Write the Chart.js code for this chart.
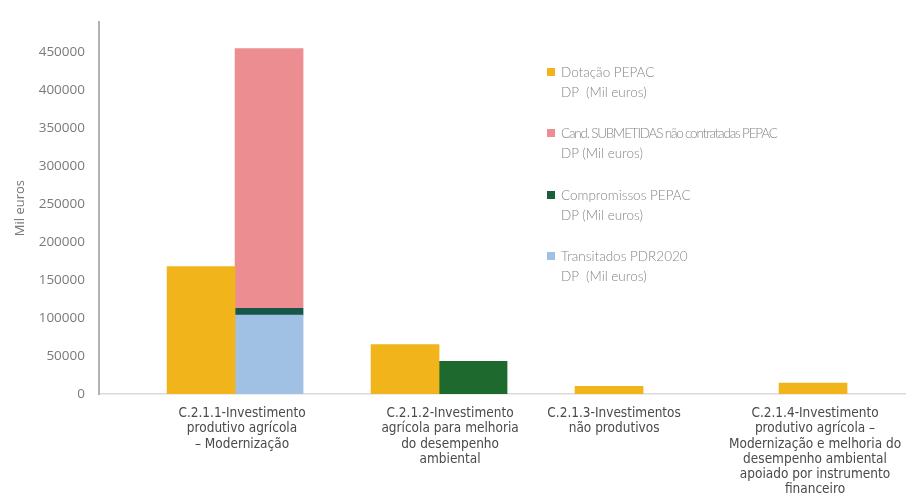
<!DOCTYPE html>
<html>
<head>
<meta charset="utf-8">
<script src="https://cdn.jsdelivr.net/npm/chart.js@4.4.1/dist/chart.umd.min.js"></script>
<style>
  body { margin: 0; background: #fff; }
  #wrap { position: relative; width: 906px; height: 498px; overflow: hidden; }
  #legend { position: absolute; left: 547px; top: 62px; font-family: Lato, "Open Sans", sans-serif; font-weight: 300; font-size: 13.5px; color: #858585; }
  .item { position: relative; height: 61.3px; padding-left: 14px; line-height: 20px; }
  .box { position: absolute; left: 0; top: 6px; width: 8px; height: 8px; }
</style>
</head>
<body>
<div id="wrap">
  <canvas id="chart" width="906" height="498"></canvas>
  <div id="legend"></div>
</div>
<script>
// categories (multi-line labels as in the source)
var categories = [
  ["C.2.1.1-Investimento", "produtivo agrícola", "– Modernização"],
  ["C.2.1.2-Investimento", "agrícola para melhoria", "do desempenho", "ambiental"],
  ["C.2.1.3-Investimentos", "não produtivos"],
  ["C.2.1.4-Investimento", "produtivo agrícola –", "Modernização e melhoria do", "desempenho ambiental", "apoiado por instrumento", "financeiro"]
];

// values in Mil euros
var dotacao = [168000, 65000, 10000, 14500];
var transitados = [104000, null, null, null];
var compromissos = [9000, 43000, null, null];
var candSubmetidas = [342000, null, null, null];

var yTicks = [0, 50000, 100000, 150000, 200000, 250000, 300000, 350000, 400000, 450000];

var legendItems = [
  ["Dotação PEPAC", "DP  (Mil euros)"],
  ["Cand. SUBMETIDAS não contratadas PEPAC", "DP (Mil euros)"],
  ["Compromissos PEPAC", "DP (Mil euros)"],
  ["Transitados PDR2020", "DP  (Mil euros)"]
];

var yellow = "#F1B41A";
var pink = "#EC8E91";
var green = "#1B5E3A";
var blue = "#A0C0E4";

function points(arr) {
  return arr.map(function (v, i) { return { x: i, y: v }; });
}

// where the category texts sit under the bars (they are a bit off-centre in the source)
var labelPos = [0.034, 1.054, 1.858, 2.843];

var config = {
  type: "bar",
  data: {
    datasets: [
      { label: legendItems[0].join(" "), data: points(dotacao), backgroundColor: yellow, stack: "a" },
      { label: legendItems[3].join(" "), data: points(transitados), backgroundColor: blue, stack: "b" },
      { label: legendItems[2].join(" "), data: points(compromissos), backgroundColor: ["#17574A", "#1E6A2E"], stack: "b" },
      { label: legendItems[1].join(" "), data: points(candSubmetidas), backgroundColor: pink, stack: "b" }
    ]
  },
  options: {
    responsive: false,
    animation: false,
    layout: { padding: { top: 13, left: 0, right: 0, bottom: 0 } },
    datasets: { bar: { barThickness: 68, borderWidth: 0 } },
    plugins: { legend: { display: false }, tooltip: { enabled: false } },
    scales: {
      x: {
        type: "linear",
        offset: false,
        min: -0.667,
        max: 3.289,
        grid: { display: false, drawTicks: false },
        border: { color: "#dadada", width: 1.5 },
        afterBuildTicks: function (scale) {
          scale.ticks = labelPos.map(function (v) { return { value: v }; });
        },
        afterFit: function (scale) {
          scale.height = 104;
          scale.paddingLeft = 0;
          scale.paddingRight = 0;
        },
        ticks: {
          autoSkip: false,
          maxRotation: 0,
          minRotation: 0,
          padding: 12,
          color: "#4a4a4a",
          font: { family: "DejaVu Sans Condensed", size: 13.5, lineHeight: 1.13 },
          callback: function (value, index) { return categories[index]; }
        }
      },
      y: {
        stacked: true,
        min: 0,
        max: 490000,
        grid: { display: false, drawTicks: false },
        border: { color: "#b3b3b3", width: 2 },
        afterBuildTicks: function (scale) {
          scale.ticks = yTicks.map(function (v) { return { value: v }; });
        },
        afterFit: function (scale) { scale.width = 99; },
        ticks: {
          padding: 14,
          color: "#7a7a7a",
          font: { family: "Open Sans", size: 13.5 },
          callback: function (value) { return String(value); }
        },
        title: {
          display: true,
          text: "Mil euros",
          color: "#777",
          font: { family: "Open Sans", size: 13 },
          padding: { top: 12, bottom: 10 }
        }
      }
    }
  }
};

var chart = new Chart(document.getElementById("chart"), config);

// legend drawn as html text next to the bars
var legendColors = [yellow, pink, green, blue];
var legendEl = document.getElementById("legend");
legendItems.forEach(function (lines, i) {
  var item = document.createElement("div");
  item.className = "item";
  var box = document.createElement("span");
  box.className = "box";
  box.style.background = legendColors[i];
  item.appendChild(box);
  lines.forEach(function (t, j) {
    var line = document.createElement("div");
    line.textContent = t;
    line.style.whiteSpace = "pre";
    if (i === 1 && j === 0) line.style.letterSpacing = "-1.2px"; // squeezed in the source
    item.appendChild(line);
  });
  legendEl.appendChild(item);
});
</script>
</body>
</html>
